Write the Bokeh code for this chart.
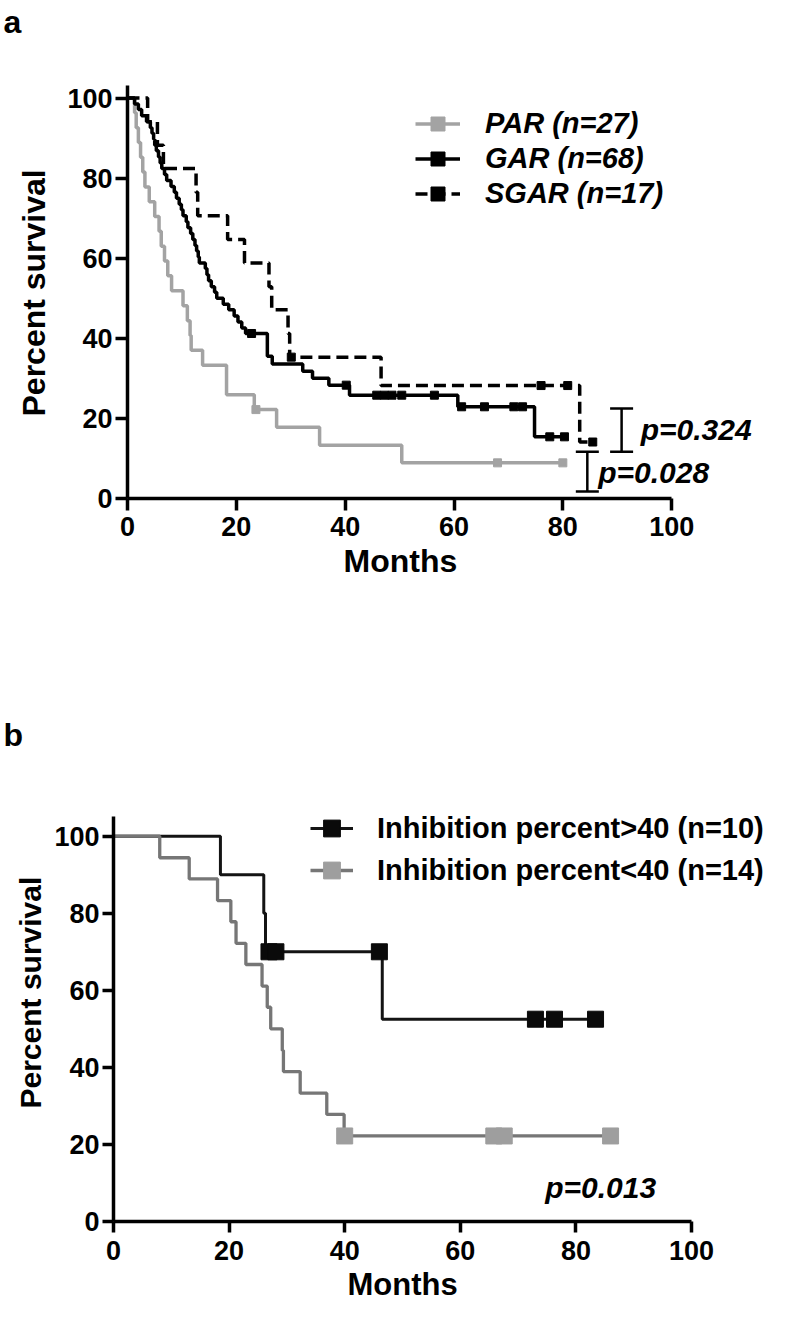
from bokeh.plotting import figure
from bokeh.models import (Range1d, FixedTicker, Legend, LegendItem, Label, Title,
                          Whisker, TeeHead, ColumnDataSource)
from bokeh.embed import file_html
from bokeh.resources import INLINE

FONT = "Liberation Sans"

# ---------------- Panel a data (Kaplan-Meier) ----------------
par_time = [0, 1.3, 1.6, 2.0, 2.4, 2.8, 3.2, 4.0, 5.0, 5.8, 6.2, 6.8, 7.4, 8.1,
            10.2, 11.0, 11.5, 11.7, 13.8, 18.2, 23.3, 27.4, 35.3, 50.4, 80.0]
par_surv = [100, 96.3, 92.6, 88.9, 85.2, 81.5, 77.8, 74.1, 70.4, 66.7, 63.0, 59.3, 55.6, 51.9,
            48.1, 44.4, 40.7, 37.0, 33.3, 25.9, 22.2, 17.8, 13.3, 8.9, 8.9]
par_cens_t = [23.6, 68.0, 80.0]
par_cens_s = [22.2, 8.9, 8.9]

gar_time = [0, 1.3, 2.0, 2.6, 3.5, 4.2, 4.5, 4.8, 5.0, 5.3, 5.7, 6.0, 6.3, 6.8, 7.2,
            8.0, 8.6, 9.0, 9.5, 9.9, 10.2, 10.8, 11.1, 11.6, 12.0, 12.4, 12.7, 13.0, 13.2,
            14.3, 14.6, 14.9, 15.4, 16.0, 16.4, 17.6, 18.6, 19.6, 20.3, 21.0, 21.7,
            25.7, 26.6, 32.2, 34.0, 37.0, 40.8, 60.7, 74.8, 80.3]
gar_surv = [100, 98.5, 97.1, 95.6, 94.1, 92.6, 91.2, 89.7, 88.2, 86.8, 85.3, 83.8, 82.4, 80.9, 79.4,
            77.9, 76.5, 75.0, 73.5, 72.1, 70.6, 69.1, 67.6, 66.2, 64.7, 63.2, 61.8, 60.3, 58.8,
            57.4, 55.9, 54.4, 52.9, 51.5, 50.0, 48.5, 47.1, 45.6, 44.1, 42.6, 41.2,
            35.5, 33.6, 31.8, 30.0, 28.3, 25.8, 22.9, 15.4, 15.4]
gar_cens_t = [22.8, 40.2, 45.8, 47.2, 48.6, 50.4, 56.4, 61.4, 65.6, 71.0, 72.6, 77.6, 80.3]
gar_cens_s = [41.2, 28.3, 25.8, 25.8, 25.8, 25.8, 25.8, 22.9, 22.9, 22.9, 22.9, 15.4, 15.4]

sgar_time = [0, 3.7, 5.5, 6.6, 12.6, 12.9, 18.4, 21.5, 26.0, 26.5, 29.5, 29.8, 46.6, 83.1, 85.5]
sgar_surv = [100, 94.1, 88.2, 82.4, 76.5, 70.6, 64.7, 58.8, 52.9, 47.1, 41.2, 35.3, 28.2, 14.1, 14.1]
sgar_cens_t = [30.1, 76.0, 80.9, 85.5]
sgar_cens_s = [35.3, 28.2, 28.2, 14.1]

a_labels = ["PAR (n=27)", "GAR (n=68)", "SGAR (n=17)"]
a_pvals = ["p=0.324", "p=0.028"]
a_bracket_x = [90.8, 84.5]
a_bracket_hi = [22.5, 11.7]
a_bracket_lo = [11.7, 1.75]
a_ptext_x = [94.3, 86.5]
a_ptext_y = [17.2, 6.5]

# ---------------- Panel b data ----------------
hi_time = [0, 18.5, 26.0, 26.3, 46.5, 83.4]
hi_surv = [100, 90, 80, 70, 52.5, 52.5]
hi_cens_t = [26.9, 28.1, 46.0, 73.0, 76.3, 83.4]
hi_cens_s = [70, 70, 70, 52.5, 52.5, 52.5]

lo_time = [0, 8.0, 13.1, 18.0, 20.3, 21.2, 22.9, 25.7, 26.6, 27.2, 29.2, 29.4,
           32.3, 36.9, 39.9, 86.0]
lo_surv = [100, 94.4, 88.9, 83.3, 77.8, 72.2, 66.7, 61.1, 55.6, 50.0, 44.4, 38.9,
           33.3, 27.8, 22.2, 22.2]
lo_cens_t = [40.0, 65.8, 67.6, 86.0]
lo_cens_s = [22.2, 22.2, 22.2, 22.2]

b_labels = ["Inhibition percent>40 (n=10)", "Inhibition percent<40 (n=14)"]
b_pval = "p=0.013"
b_ptext_x = 74.7
b_ptext_y = 8.7

ticks = [0, 20, 40, 60, 80, 100]


def style_axes(p, tick_out, label_standoff_x, ybounds):
    p.xgrid.visible = False
    p.ygrid.visible = False
    p.outline_line_color = None
    p.xaxis[0].bounds = (0, 100)
    p.yaxis[0].bounds = ybounds
    for ax in (p.xaxis[0], p.yaxis[0]):
        ax.ticker = FixedTicker(ticks=ticks)
        ax.axis_line_width = 3.5
        ax.axis_line_color = "black"
        ax.major_tick_line_width = 3.5
        ax.major_tick_line_color = "black"
        ax.major_tick_out = tick_out
        ax.major_tick_in = 0
        ax.minor_tick_line_color = None
        ax.major_label_text_font = FONT
        ax.major_label_text_font_style = "bold"
        ax.major_label_text_font_size = "27px"
        ax.major_label_text_color = "black"
    p.yaxis[0].major_label_standoff = 3
    p.xaxis[0].major_label_standoff = label_standoff_x


def add_titles(p, letter, letter_offset, letter_standoff,
               xoff, xstand, xfs, yoff, ystand, yfs):
    p.title.text = letter
    p.title.align = "left"
    p.title.offset = letter_offset
    p.title.standoff = letter_standoff
    p.title.text_font = FONT
    p.title.text_font_style = "bold"
    p.title.text_font_size = "32px"
    p.title.text_color = "black"
    p.add_layout(Title(text="Months", align="left", offset=xoff, standoff=xstand,
                       text_font=FONT, text_font_style="bold", text_font_size=xfs,
                       text_color="black"), "below")
    p.add_layout(Title(text="Percent survival", align="left", offset=yoff,
                       standoff=ystand, text_font=FONT, text_font_style="bold",
                       text_font_size=yfs, text_color="black"), "left")


# ---------------- Figure a ----------------
pa = figure(width=784, height=620, output_backend="svg", toolbar_location=None,
            title="a", x_range=Range1d(0, 120), y_range=Range1d(0, 114.36),
            min_border_left=127, min_border_right=4, min_border_top=40,
            min_border_bottom=122)
style_axes(pa, 12, 6, (0, 103))
add_titles(pa, "a", -124, 2, 216, 4, "32px", 82, 25, "32px")

src_par = ColumnDataSource(dict(t=par_time, s=par_surv))
src_gar = ColumnDataSource(dict(t=gar_time, s=gar_surv))
src_sgar = ColumnDataSource(dict(t=sgar_time, s=sgar_surv))

r_par = pa.step("t", "s", source=src_par, mode="after", line_color="#a3a3a3", line_width=3.5)
m_par = pa.scatter(par_cens_t, par_cens_s, marker="square", size=8, color="#a3a3a3")
r_gar = pa.step("t", "s", source=src_gar, mode="after", line_color="black", line_width=3.5)
m_gar = pa.scatter(gar_cens_t, gar_cens_s, marker="square", size=8, color="black")
r_sgar = pa.step("t", "s", source=src_sgar, mode="after", line_color="black", line_width=3.5,
                 line_dash="12 6")
m_sgar = pa.scatter(sgar_cens_t, sgar_cens_s, marker="square", size=8, color="black")

leg_a = Legend(items=[LegendItem(label=a_labels[0], renderers=[r_par, m_par]),
                      LegendItem(label=a_labels[1], renderers=[r_gar, m_gar]),
                      LegendItem(label=a_labels[2], renderers=[r_sgar, m_sgar])],
               location=(288, 287), glyph_width=45, glyph_height=35, label_standoff=25,
               spacing=0, padding=0, margin=0, border_line_color=None,
               background_fill_alpha=0, label_text_font=FONT,
               label_text_font_style="bold italic", label_text_font_size="29px",
               label_text_color="black")
pa.add_layout(leg_a)

wsrc = ColumnDataSource(dict(base=a_bracket_x, upper=a_bracket_hi, lower=a_bracket_lo))
pa.add_layout(Whisker(source=wsrc, base="base", upper="upper", lower="lower",
                      dimension="height", line_width=2.5, line_color="black",
                      upper_head=TeeHead(size=23, line_width=2.5, line_color="black"),
                      lower_head=TeeHead(size=23, line_width=2.5, line_color="black")))
for txt, x, y in zip(a_pvals, a_ptext_x, a_ptext_y):
    pa.add_layout(Label(x=x, y=y, text=txt, text_font=FONT, text_font_style="bold italic",
                        text_font_size="30px", text_align="left", text_baseline="middle",
                        text_color="black"))

# ---------------- Figure b ----------------
pb = figure(width=784, height=689, output_backend="svg", toolbar_location=None,
            title="b", x_range=Range1d(0, 115.4), y_range=Range1d(0, 117.57),
            min_border_left=113, min_border_right=4, min_border_top=148,
            min_border_bottom=88)
style_axes(pb, 11, 8, (0, 105.2))
add_titles(pb, "b", -110, 32, 234, 4, "31px", 113, 10, "30px")

src_hi = ColumnDataSource(dict(t=hi_time, s=hi_surv))
src_lo = ColumnDataSource(dict(t=lo_time, s=lo_surv))
r_hi = pb.step("t", "s", source=src_hi, mode="after", line_color="#141414", line_width=3)
m_hi = pb.scatter(hi_cens_t, hi_cens_s, marker="square", size=16, color="#0a0a0a")
r_lo = pb.step("t", "s", source=src_lo, mode="after", line_color="#767676", line_width=3.3)
m_lo = pb.scatter(lo_cens_t, lo_cens_s, marker="square", size=16, color="#9e9e9e")

leg_b = Legend(items=[LegendItem(label=b_labels[0], renderers=[r_hi, m_hi]),
                      LegendItem(label=b_labels[1], renderers=[r_lo, m_lo])],
               location=(197, 330), glyph_width=43, glyph_height=42, label_standoff=24,
               spacing=0, padding=0, margin=0, border_line_color=None,
               background_fill_alpha=0, label_text_font=FONT,
               label_text_font_style="bold", label_text_font_size="29px",
               label_text_color="black")
pb.add_layout(leg_b)
pb.add_layout(Label(x=b_ptext_x, y=b_ptext_y, text=b_pval, text_font=FONT,
                    text_font_style="bold italic", text_font_size="30px",
                    text_align="left", text_baseline="middle", text_color="black"))

open("out.html", "w").write(file_html((pa, pb), INLINE))
